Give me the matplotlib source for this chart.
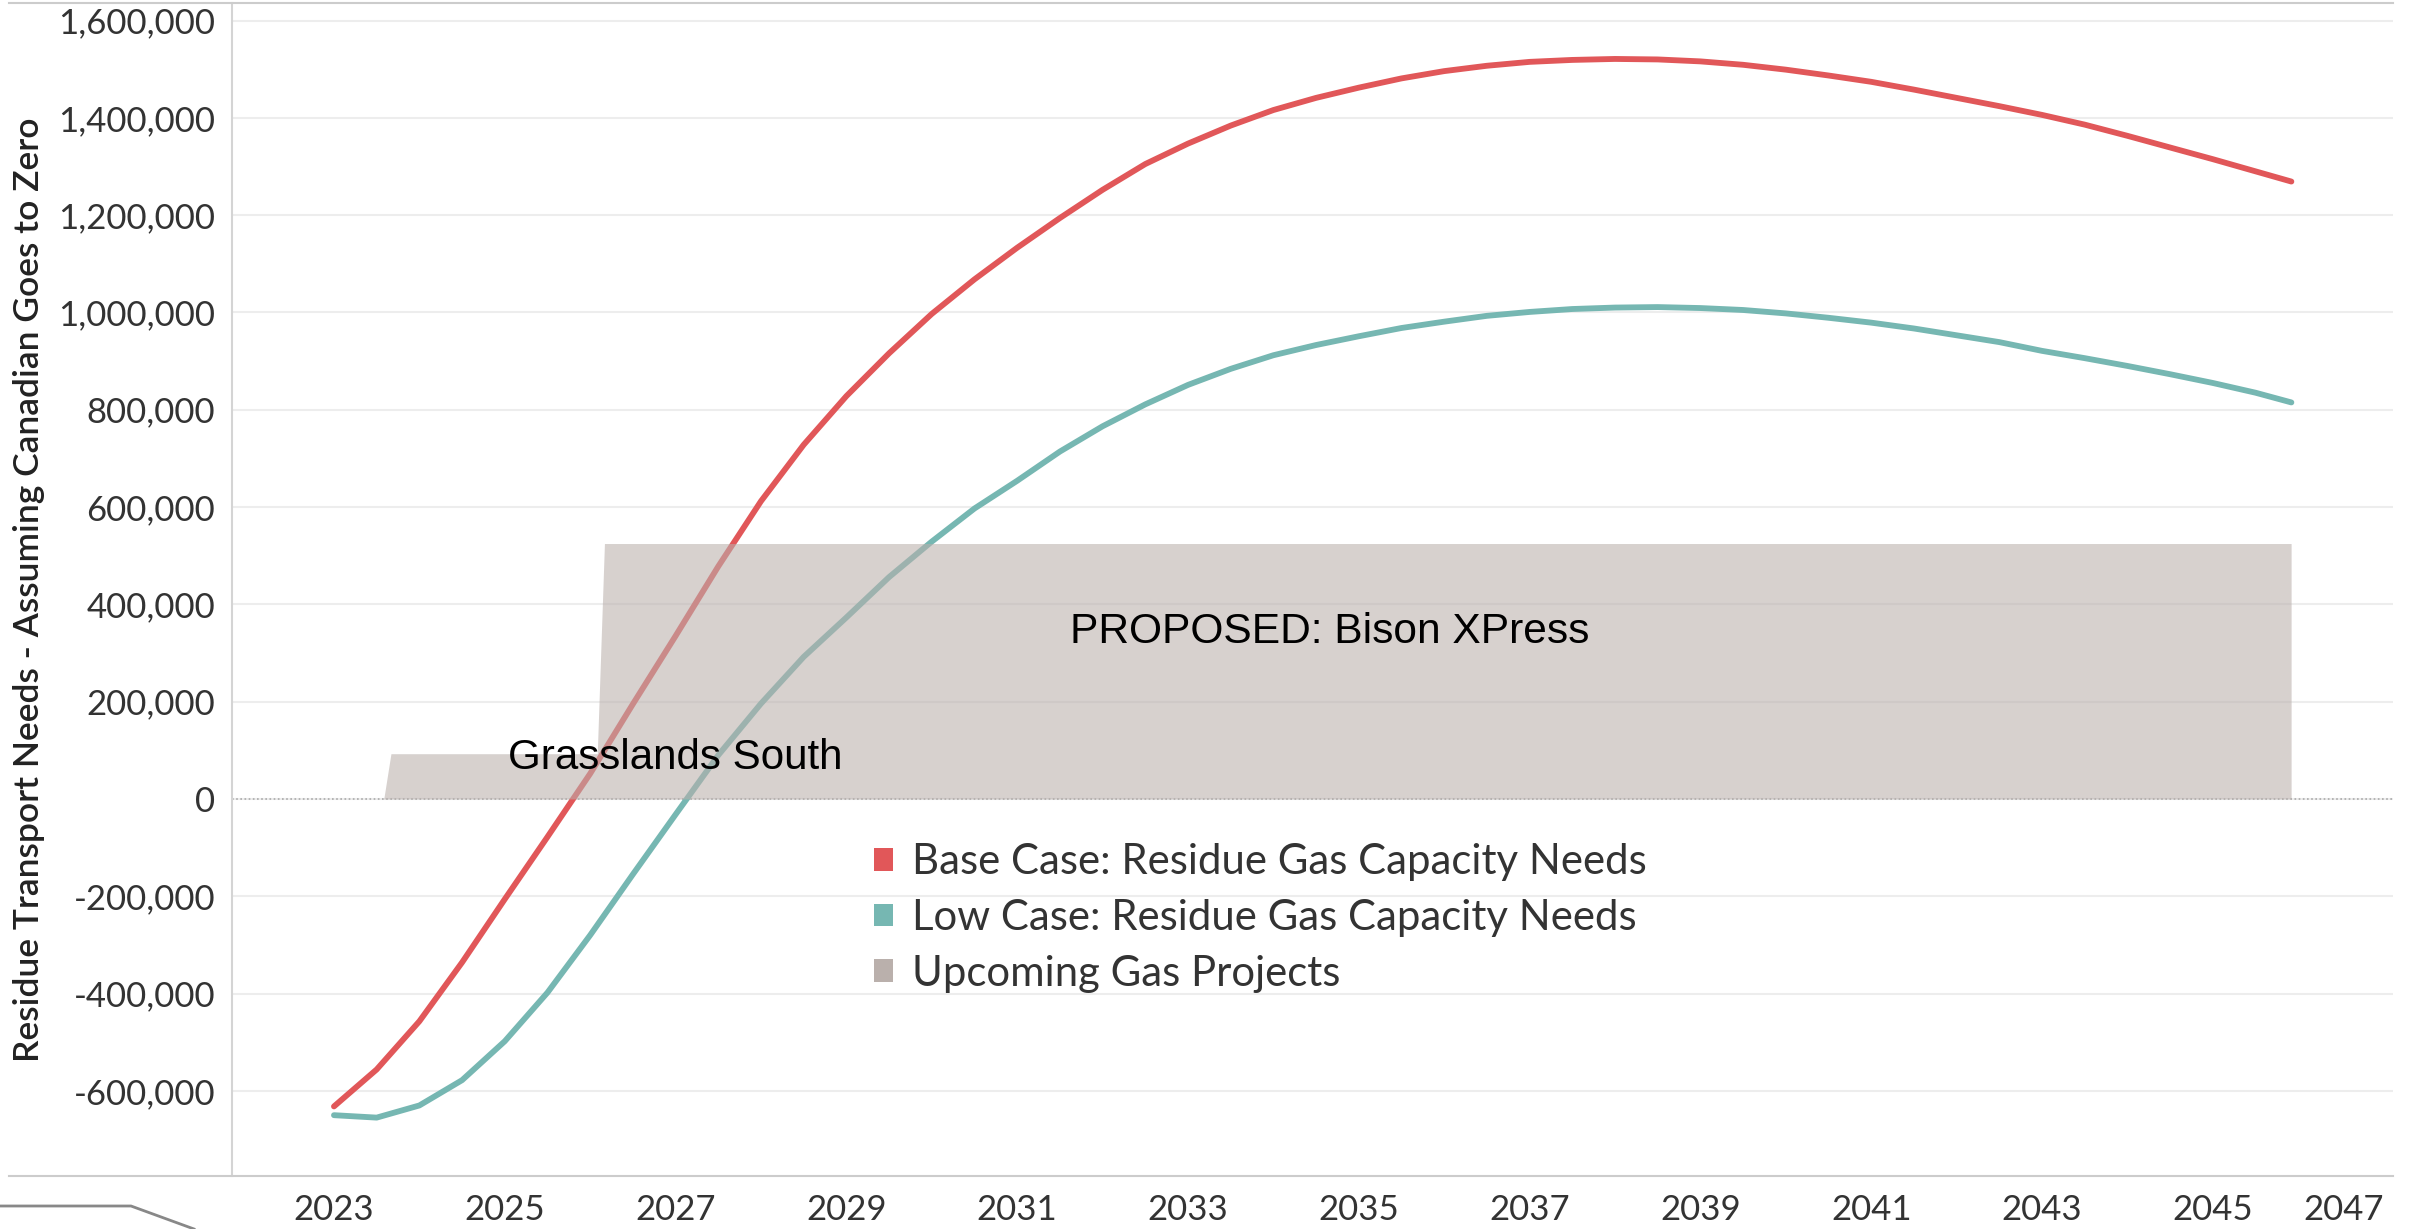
import matplotlib as mpl
mpl.use('Agg')
import matplotlib.pyplot as plt
from matplotlib.patches import Patch
from matplotlib.lines import Line2D
from matplotlib.ticker import FuncFormatter

plt.rcParams['font.family'] = ['Lato', 'DejaVu Sans']

# half-year readings
years = [2023.0, 2023.5, 2024.0, 2024.5, 2025.0, 2025.5, 2026.0, 2026.5,
         2027.0, 2027.5, 2028.0, 2028.5, 2029.0, 2029.5, 2030.0, 2030.5,
         2031.0, 2031.5, 2032.0, 2032.5, 2033.0, 2033.5, 2034.0, 2034.5,
         2035.0, 2035.5, 2036.0, 2036.5, 2037.0, 2037.5, 2038.0, 2038.5,
         2039.0, 2039.5, 2040.0, 2040.5, 2041.0, 2041.5, 2042.0, 2042.5,
         2043.0, 2043.5, 2044.0, 2044.5, 2045.0, 2045.5, 2045.92]

base_case = [-632000, -556000, -457000, -336000, -206000, -78000, 52000, 195000,
             335000, 478000, 612000, 728000, 828000, 916000, 997000, 1068000,
             1133000, 1194000, 1252000, 1305000, 1347000, 1384000, 1416000, 1441000,
             1462000, 1481000, 1496000, 1507000, 1515000, 1519000, 1521000, 1520000,
             1516000, 1509000, 1499000, 1487000, 1474000, 1458000, 1441000, 1424000,
             1406000, 1386000, 1363000, 1339000, 1315000, 1290000, 1269000]

low_case = [-650000, -655000, -630000, -578000, -498000, -398000, -280000, -155000,
            -32000, 90000, 196000, 292000, 373000, 456000, 529000, 597000,
            654000, 714000, 766000, 811000, 851000, 884000, 912000, 933000,
            951000, 968000, 981000, 993000, 1001000, 1007000, 1010000, 1011000,
            1009000, 1005000, 998000, 989000, 979000, 967000, 953000, 939000,
            921000, 906000, 890000, 873000, 855000, 835000, 815000]

# upcoming gas projects (cumulative capacity)
proj_years = [2023.0, 2023.583, 2023.667, 2026.083, 2026.167, 2045.917]
proj_capacity = [0, 0, 93000, 93000, 525000, 525000]

labels = ['Base Case: Residue Gas Capacity Needs',
          'Low Case: Residue Gas Capacity Needs',
          'Upcoming Gas Projects']
colors = ['#E15759', '#76B7B2', '#BAB0AC']

fig = plt.figure(figsize=(24.13, 12.29), dpi=100)
ax = fig.add_axes([232/2413, 53/1229, 2161/2413, 1173/1229])

ax.plot(years, base_case, color=colors[0], lw=4.2, solid_capstyle='round',
        solid_joinstyle='round', zorder=2)
ax.plot(years, low_case, color=colors[1], lw=4.2, solid_capstyle='round',
        solid_joinstyle='round', zorder=2)
ax.fill_between(proj_years, 0, proj_capacity, color=colors[2], alpha=0.58, lw=0, zorder=3)

ax.axhline(0, color='#aaaaaa', lw=1.2, ls=(0, (1, 1.5)), zorder=1)

ax.text(2025.04, 85000, 'Grasslands South', fontsize=30.3, family='Liberation Sans',
        color='black', va='center', ha='left', zorder=5)
ax.text(2031.62, 343000, 'PROPOSED: Bison XPress', fontsize=30.6, family='Liberation Sans',
        color='black', va='center', ha='left', zorder=5)

ax.set_xlim(2021.806, 2047.11)
ax.set_ylim(-775000, 1636000)

ax.set_yticks([-600000, -400000, -200000, 0, 200000, 400000, 600000, 800000,
               1000000, 1200000, 1400000, 1600000])
ax.yaxis.set_major_formatter(FuncFormatter(lambda v, p: '{:,.0f}'.format(v)))
ax.set_xticks(list(range(2023, 2048, 2)))
ax.tick_params(axis='y', length=0, pad=12, labelsize=25, labelcolor='#333333')
ax.tick_params(axis='x', length=0, pad=13, labelsize=25, labelcolor='#333333')
ax.get_xticklabels()[-1].set_horizontalalignment('right')

ax.yaxis.grid(True, color='#ededed', lw=1.5, zorder=0)
ax.set_axisbelow(True)
for s in ['top', 'right', 'bottom']:
    ax.spines[s].set_visible(False)
ax.spines['left'].set_color('#d4d4d4')
ax.spines['left'].set_linewidth(1.5)

ax.set_ylabel('Residue Transport Needs - Assuming Canadian Goes to Zero',
              fontsize=25.5, fontweight='semibold', color='#222222')
ax.yaxis.set_label_coords(-0.0865, 0.5)

handles = [Patch(facecolor=c, edgecolor='none') for c in colors]
ax.legend(handles, labels, loc='upper left', bbox_to_anchor=(0.297, 0.2835),
          frameon=False, fontsize=30.2, labelcolor='#333333', handlelength=0.45,
          handleheight=0.45, handletextpad=0.45, labelspacing=0.42,
          borderpad=0, borderaxespad=0)

# frame lines reaching out past the axis
fig.add_artist(Line2D([9/2413, 2393/2413], [1-3/1229, 1-3/1229],
                      transform=fig.transFigure, color='#cccccc', lw=1.5))
fig.add_artist(Line2D([9/2413, 2393/2413], [53/1229, 53/1229],
                      transform=fig.transFigure, color='#cccccc', lw=1.5))
fig.add_artist(Line2D([0, 131/2413, 194/2413], [23/1229, 23/1229, 0],
                      transform=fig.transFigure, color='#888888', lw=2))

fig.savefig('out.png', dpi=100)
